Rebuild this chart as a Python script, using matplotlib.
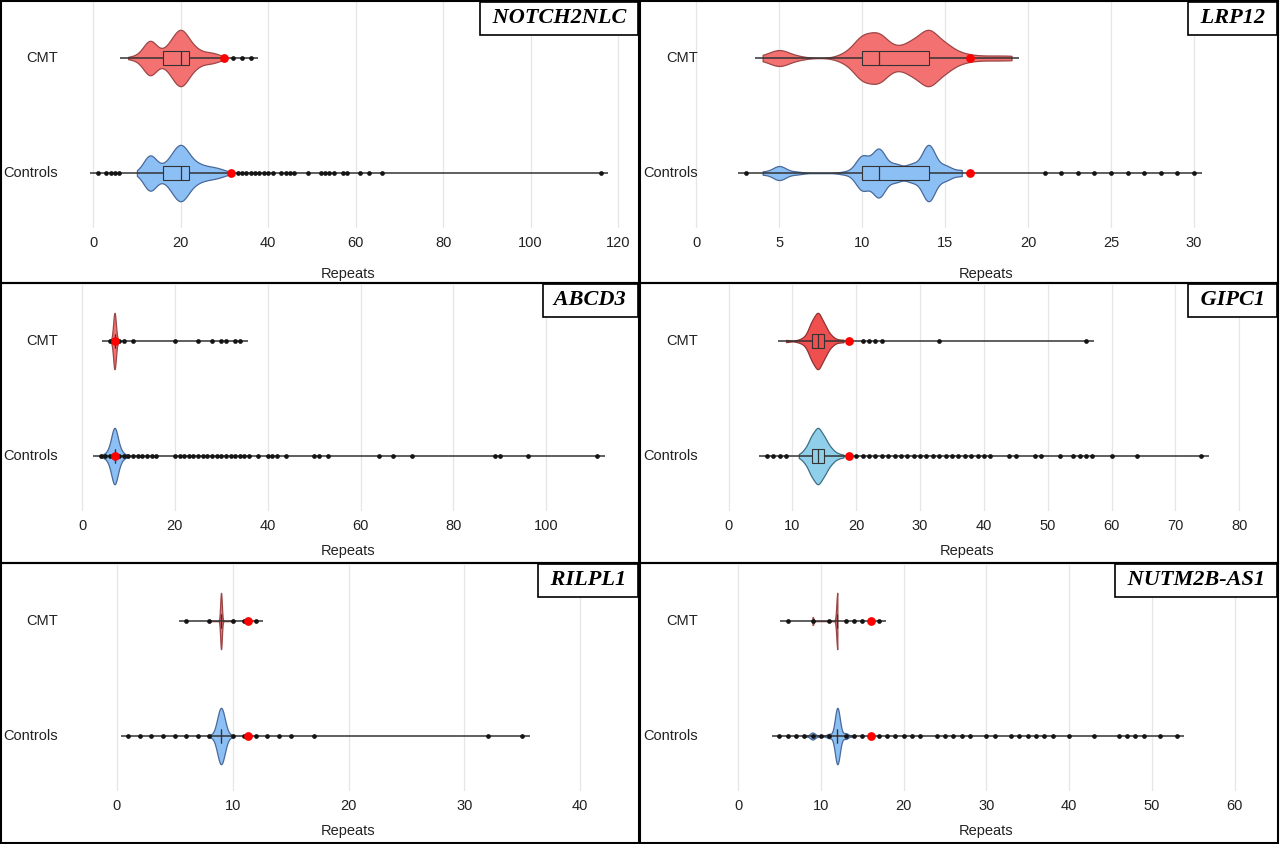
import matplotlib.pyplot as plt
import numpy as np
from matplotlib.patches import Rectangle
from matplotlib.transforms import blended_transform_factory

plt.rcParams['font.family'] = ['Liberation Sans', 'DejaVu Sans']

# ---- data (repeat counts) ----
# NOTCH2NLC
notch_cmt_vals = [8, 9, 10, 11, 12, 13, 14, 15, 16, 17, 18, 19, 20, 21, 22, 23, 24, 25, 26, 27, 28, 29, 30]
notch_cmt_counts = [1, 1, 2, 4, 10, 16, 10, 5, 5, 8, 13, 18, 22, 18, 12, 8, 6, 4, 4, 4, 3, 2, 1]
notch_ctrl_vals = [10, 11, 12, 13, 14, 15, 16, 17, 18, 19, 20, 21, 22, 23, 24, 25, 26, 27, 28, 29, 30, 31]
notch_ctrl_counts = [1, 3, 10, 17, 10, 5, 5, 8, 13, 18, 22, 18, 12, 8, 7, 5, 5, 4, 4, 3, 2, 1]
notch_cmt_box = [16, 20, 22]
notch_ctrl_box = [16, 20, 22]
notch_cmt_out = [32, 34, 36]
notch_ctrl_out = [1, 3, 4, 5, 6, 33, 34, 35, 36, 37, 38, 39, 40, 41, 43, 44, 45, 46, 49,
                  52, 53, 54, 55, 57, 58, 61, 63, 66, 116]
notch_red = [30, 31.4]          # CMT, Controls
notch_bw = [1.1, 1.1]

# LRP12
lrp_cmt_vals = [4, 5, 6, 9, 10, 11, 12, 13, 14, 15, 16, 17, 18, 19]
lrp_cmt_counts = [1, 4, 1, 2, 10, 11, 4, 7, 13, 6, 2, 1, 1, 1]
lrp_ctrl_vals = [4, 5, 6, 9, 10, 11, 12, 13, 14, 15, 16]
lrp_ctrl_counts = [1, 5, 1, 1, 12, 17, 6, 6, 20, 5, 2]
lrp_cmt_box = [10, 11, 14]
lrp_ctrl_box = [10, 11, 14]
lrp_cmt_out = []
lrp_ctrl_out = [3, 21, 22, 23, 24, 25, 26, 27, 28, 29, 30]
lrp_red = [16.5, 16.5]
lrp_bw = [0.55, 0.4]

# ABCD3
abcd_cmt_vals = [6, 7, 8]
abcd_cmt_counts = [1, 30, 1]
abcd_ctrl_vals = [4, 5, 6, 7, 8, 9, 10]
abcd_ctrl_counts = [1, 2, 8, 40, 8, 2, 1]
abcd_cmt_box = [7, 7, 7]
abcd_ctrl_box = [7, 7, 7]
abcd_cmt_out = [6, 8, 9, 11, 20, 25, 28, 30, 31, 33, 34]
abcd_ctrl_out = [4, 5, 6, 8, 9, 10, 11, 12, 13, 14, 15, 16, 20, 21, 22, 23, 24, 25, 26, 27,
                 28, 29, 30, 31, 32, 33, 34, 35, 36, 38, 40, 41, 42, 44, 50, 51, 53, 64, 67,
                 71, 89, 90, 96, 111]
abcd_red = [7, 7]
abcd_bw = [0.3, 0.65]

# GIPC1
gipc_cmt_vals = [9, 11, 12, 13, 14, 15, 16, 17, 18]
gipc_cmt_counts = [1, 1, 3, 14, 22, 12, 4, 1, 1]
gipc_ctrl_vals = [11, 12, 13, 14, 15, 16, 17, 18]
gipc_ctrl_counts = [1, 5, 15, 22, 14, 6, 2, 1]
gipc_cmt_box = [13, 14, 15]
gipc_ctrl_box = [13, 14, 15]
gipc_cmt_out = [21, 22, 23, 24, 33, 56]
gipc_ctrl_out = [6, 7, 8, 9, 20, 21, 22, 23, 24, 25, 26, 27, 28, 29, 30, 31, 32, 33, 34, 35,
                 36, 37, 38, 39, 40, 41, 44, 45, 48, 49, 52, 54, 55, 56, 57, 60, 64, 74]
gipc_red = [18.8, 18.8]
gipc_bw = [0.55, 0.55]

# RILPL1
ril_cmt_vals = [8, 9, 10]
ril_cmt_counts = [1, 20, 1]
ril_ctrl_vals = [8, 9, 10]
ril_ctrl_counts = [1, 30, 1]
ril_cmt_box = [9, 9, 9]
ril_ctrl_box = [9, 9, 9]
ril_cmt_out = [6, 8, 10, 11, 12]
ril_ctrl_out = [1, 2, 3, 4, 5, 6, 7, 8, 10, 11, 12, 13, 14, 15, 17, 32, 35]
ril_red = [11.3, 11.3]
ril_bw = [0.07, 0.33]

# NUTM2B-AS1
nutm_cmt_vals = [9, 12]
nutm_cmt_counts = [2, 14]
nutm_ctrl_vals = [8, 9, 10, 11, 12, 13, 14]
nutm_ctrl_counts = [1, 5, 1, 3, 40, 4, 1]
nutm_cmt_box = [12, 12, 12]
nutm_ctrl_box = [12, 12, 12]
nutm_cmt_out = [6, 9, 11, 13, 14, 15, 17]
nutm_ctrl_out = [5, 6, 7, 8, 9, 10, 11, 13, 14, 15, 17, 18, 19, 20, 21, 22, 24, 25, 26, 27,
                 28, 30, 31, 33, 34, 35, 36, 37, 38, 40, 43, 46, 47, 48, 49, 51, 53]
nutm_red = [16.1, 16.1]
nutm_bw = [0.12, 0.3]

genes = ['NOTCH2NLC', 'LRP12', 'ABCD3', 'GIPC1', 'RILPL1', 'NUTM2B-AS1']
xticks = [[0, 20, 40, 60, 80, 100, 120], [0, 5, 10, 15, 20, 25, 30],
          [0, 20, 40, 60, 80, 100], [0, 10, 20, 30, 40, 50, 60, 70, 80],
          [0, 10, 20, 30, 40], [0, 10, 20, 30, 40, 50, 60]]

panels = [
    (notch_cmt_vals, notch_cmt_counts, notch_ctrl_vals, notch_ctrl_counts, notch_cmt_box,
     notch_ctrl_box, notch_cmt_out, notch_ctrl_out, notch_red, notch_bw),
    (lrp_cmt_vals, lrp_cmt_counts, lrp_ctrl_vals, lrp_ctrl_counts, lrp_cmt_box,
     lrp_ctrl_box, lrp_cmt_out, lrp_ctrl_out, lrp_red, lrp_bw),
    (abcd_cmt_vals, abcd_cmt_counts, abcd_ctrl_vals, abcd_ctrl_counts, abcd_cmt_box,
     abcd_ctrl_box, abcd_cmt_out, abcd_ctrl_out, abcd_red, abcd_bw),
    (gipc_cmt_vals, gipc_cmt_counts, gipc_ctrl_vals, gipc_ctrl_counts, gipc_cmt_box,
     gipc_ctrl_box, gipc_cmt_out, gipc_ctrl_out, gipc_red, gipc_bw),
    (ril_cmt_vals, ril_cmt_counts, ril_ctrl_vals, ril_ctrl_counts, ril_cmt_box,
     ril_ctrl_box, ril_cmt_out, ril_ctrl_out, ril_red, ril_bw),
    (nutm_cmt_vals, nutm_cmt_counts, nutm_ctrl_vals, nutm_ctrl_counts, nutm_cmt_box,
     nutm_ctrl_box, nutm_cmt_out, nutm_ctrl_out, nutm_red, nutm_bw),
]

# ---- layout / style ----
W, H = 1280, 844
xlims = [(-21.3, 125.0), (-3.39, 35.18), (-17.67, 120.2),
         (-13.88, 86.39), (-10.07, 45.15), (-11.84, 65.47)]
label_cx = [348, 346, 348, 327, 348, 346]
label_dy = [46, 40, 40]          # "Repeats" offset below the plot area, per row (px)
row_top = [0, 283, 563]
row_h = [283, 280, 281]

cmt_fill, cmt_edge = '#F47171', '#9C4646'
ctrl_fill, ctrl_edge = '#8CBFF4', '#48699A'
gipc_cmt_fill, gipc_cmt_edge = '#F04F4F', '#8E3232'
gipc_ctrl_fill, gipc_ctrl_edge = '#8FCFE9', '#3E6E82'
dark = '#333333'

fig = plt.figure(figsize=(W / 100, H / 100), dpi=100)

for i, gene in enumerate(genes):
    col, row = i % 2, i // 2
    x0 = col * 640
    top = row_top[row]
    ax = fig.add_axes([x0 / W, 1 - (top + 228) / H, 640 / W, 226 / H])
    ax.set_xlim(*xlims[i])
    ax.set_ylim(0.522, 2.487)

    (cv, cc, tv, tc, cbox, tbox, cout, tout, red, bw) = panels[i]
    if gene == 'GIPC1':
        fills = [gipc_cmt_fill, gipc_ctrl_fill]
        edges = [gipc_cmt_edge, gipc_ctrl_edge]
    else:
        fills = [cmt_fill, ctrl_fill]
        edges = [cmt_edge, ctrl_edge]

    span = xlims[i][1] - xlims[i][0]
    groups = [(2, cv, cc, cbox, cout), (1, tv, tc, tbox, tout)]
    for g, (pos, vals, counts, box, outs) in enumerate(groups):
        data = np.repeat(vals, counts).astype(float)
        allpts = list(data) + list(outs) + [red[g]]
        lo, hi = min(allpts) - 0.012 * span, max(allpts) + 0.012 * span
        ax.hlines(pos, lo, hi, color=dark, lw=1.1, zorder=2)

        vp = ax.violinplot([data], positions=[pos], widths=0.49, orientation='horizontal',
                           showextrema=False, points=500,
                           bw_method=bw[g] / data.std(ddof=1))
        for body in vp['bodies']:
            body.set_facecolor(fills[g])
            body.set_edgecolor(edges[g])
            body.set_linewidth(0.9)
            body.set_alpha(1)
            body.set_zorder(1)

        stats = [dict(q1=box[0], med=box[1], q3=box[2], whislo=box[0], whishi=box[2], fliers=[])]
        ax.bxp(stats, positions=[pos], widths=0.13, orientation='horizontal',
               patch_artist=True, showcaps=False, showfliers=False, manage_ticks=False,
               boxprops=dict(facecolor=fills[g], edgecolor=dark, linewidth=0.8),
               medianprops=dict(color=dark, linewidth=0.9),
               whiskerprops=dict(linewidth=0), zorder=3)

        ax.plot(outs, [pos] * len(outs), 'o', color='#141414', ms=3.4, mew=0, zorder=4)
        ax.plot([red[g]], [pos], 'o', color='#FF0000', ms=6.3, mew=0, zorder=5)

    ax.set_xticks(xticks[i])
    ax.set_yticks([])
    ax.tick_params(axis='x', length=0, pad=6, labelsize=10.5, labelcolor='#222222')
    ax.grid(axis='x', color='#E6E6E6', lw=0.9)
    ax.set_axisbelow(True)
    for s in ax.spines.values():
        s.set_visible(False)

    tr = blended_transform_factory(ax.transAxes, ax.transData)
    ax.text(58 / 640, 2, 'CMT', transform=tr, ha='right', va='center', fontsize=10.5,
            color='#222222')
    ax.text(58 / 640, 1, 'Controls', transform=tr, ha='right', va='center', fontsize=10.5,
            color='#222222')
    ax.text(label_cx[i] / 640, -label_dy[row] / 226, 'Repeats', transform=ax.transAxes,
            ha='center', va='center', fontsize=10.5, color='#222222')

    # panel frame
    fx0 = x0 + (1 if col == 0 else 0)
    fw = 638
    fy0 = H - top - row_h[row] + (1 if row == 2 else 0)
    fh = row_h[row] - (1 if row in (0, 2) else 0)
    fig.add_artist(Rectangle((fx0 / W, fy0 / H), fw / W, fh / H, transform=fig.transFigure,
                             fill=False, edgecolor='black', lw=1.5))

    # gene title box
    ax.annotate(' ' + gene + ' ', xy=(fx0 + fw, H - top - (1 if row == 0 else 0)),
                xycoords='figure pixels', xytext=(-5.3, -5.3), textcoords='offset points',
                ha='right', va='top', fontsize=16, fontweight='bold', fontstyle='italic',
                family='Liberation Serif', annotation_clip=False,
                bbox=dict(boxstyle='square,pad=0.3', facecolor='white', edgecolor='black',
                          lw=1.2))

fig.savefig('out.png', dpi=100)
